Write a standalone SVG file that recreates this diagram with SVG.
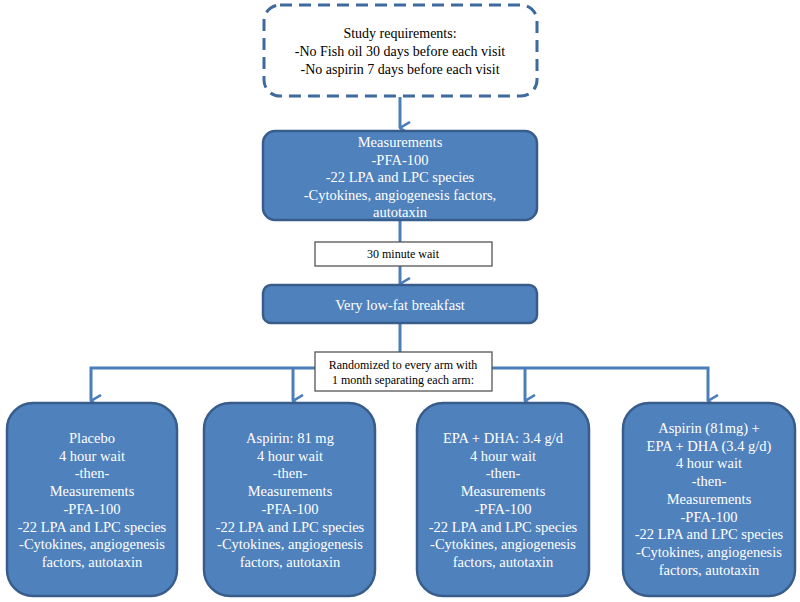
<svg xmlns="http://www.w3.org/2000/svg" width="800" height="602" viewBox="0 0 800 602">
<defs>
<marker id="arr" viewBox="0 0 14 12" refX="7" refY="11" markerWidth="14" markerHeight="12" markerUnits="userSpaceOnUse" orient="auto-start-reverse">
<path d="M1,1 L7,11 L13,1" fill="none" stroke="#4A7EBB" stroke-width="2.6"/>
</marker>
</defs>
<style>
text{font-family:"Liberation Serif","Times New Roman",serif;text-anchor:middle}
.blue{fill:#4F81BD;stroke:#385D8A;stroke-width:2.5}
.wt{fill:#ffffff;font-size:14.5px}
.bt{fill:#000000}
.plain{fill:#ffffff;stroke:#555555;stroke-width:1.3}
.con{fill:none;stroke:#4A7EBB;stroke-width:3}
</style>
<rect width="800" height="602" fill="#ffffff"/>
<g id="connectors">
<path class="con" d="M400,97 V128" marker-end="url(#arr)"/>
<path class="con" d="M400,220 V242"/>
<path class="con" d="M400,266 V284" marker-end="url(#arr)"/>
<path class="con" d="M400,323 V352"/>
<path class="con" d="M315,368 H91 V401" marker-end="url(#arr)"/>
<path class="con" d="M293,368 V401" marker-end="url(#arr)"/>
<path class="con" d="M492,368 H708 V401" marker-end="url(#arr)"/>
<path class="con" d="M525,368 V401" marker-end="url(#arr)"/>
</g>
<g id="requirements">
<rect x="264" y="5" width="273" height="91" rx="16" fill="#ffffff" stroke="#3F6A9E" stroke-width="3" stroke-dasharray="12,7"/>
<text class="bt" font-size="14"><tspan x="400" y="38">Study requirements:</tspan><tspan x="400" y="56">-No Fish oil 30 days before each visit</tspan><tspan x="400" y="74">-No aspirin 7 days before each visit</tspan></text>
</g>
<g id="measurements">
<rect class="blue" x="263" y="131" width="274" height="89" rx="12"/>
<text class="wt"><tspan x="400" y="147">Measurements</tspan><tspan x="400" y="164.5">-PFA-100</tspan><tspan x="400" y="182">-22 LPA and LPC species</tspan><tspan x="400" y="199.5">-Cytokines, angiogenesis factors,</tspan><tspan x="400" y="217">autotaxin</tspan></text>
</g>
<g id="wait">
<rect class="plain" x="315" y="242" width="177" height="24"/>
<text class="bt" font-size="12" x="403" y="258">30 minute wait</text>
</g>
<g id="breakfast">
<rect class="blue" x="263" y="285" width="274" height="38" rx="8"/>
<text class="wt" x="400" y="310">Very low-fat breakfast</text>
</g>
<g id="randomized">
<rect class="plain" x="315" y="352" width="177" height="39"/>
<text class="bt" font-size="12"><tspan x="403" y="369">Randomized to every arm with</tspan><tspan x="403" y="384">1 month separating each arm:</tspan></text>
</g>
<g id="placebo">
<rect class="blue" x="7" y="403" width="170" height="193" rx="26"/>
<text class="wt"><tspan x="92" y="443">Placebo</tspan><tspan x="92" dy="17.7">4 hour wait</tspan><tspan x="92" dy="17.7">-then-</tspan><tspan x="92" dy="17.7">Measurements</tspan><tspan x="92" dy="17.7">-PFA-100</tspan><tspan x="92" dy="17.7">-22 LPA and LPC species</tspan><tspan x="92" dy="17.7">-Cytokines, angiogenesis</tspan><tspan x="92" dy="17.7">factors, autotaxin</tspan></text>
</g>
<g id="aspirin">
<rect class="blue" x="204" y="403" width="171" height="193" rx="26"/>
<text class="wt"><tspan x="290" y="443">Aspirin: 81 mg</tspan><tspan x="290" dy="17.7">4 hour wait</tspan><tspan x="290" dy="17.7">-then-</tspan><tspan x="290" dy="17.7">Measurements</tspan><tspan x="290" dy="17.7">-PFA-100</tspan><tspan x="290" dy="17.7">-22 LPA and LPC species</tspan><tspan x="290" dy="17.7">-Cytokines, angiogenesis</tspan><tspan x="290" dy="17.7">factors, autotaxin</tspan></text>
</g>
<g id="epadha">
<rect class="blue" x="417" y="403" width="172" height="193" rx="26"/>
<text class="wt"><tspan x="503" y="443">EPA + DHA: 3.4 g/d</tspan><tspan x="503" dy="17.7">4 hour wait</tspan><tspan x="503" dy="17.7">-then-</tspan><tspan x="503" dy="17.7">Measurements</tspan><tspan x="503" dy="17.7">-PFA-100</tspan><tspan x="503" dy="17.7">-22 LPA and LPC species</tspan><tspan x="503" dy="17.7">-Cytokines, angiogenesis</tspan><tspan x="503" dy="17.7">factors, autotaxin</tspan></text>
</g>
<g id="combined">
<rect class="blue" x="623" y="403" width="172" height="193" rx="26"/>
<text class="wt"><tspan x="709" y="433">Aspirin (81mg) +</tspan><tspan x="709" dy="17.7">EPA + DHA (3.4 g/d)</tspan><tspan x="709" dy="17.7">4 hour wait</tspan><tspan x="709" dy="17.7">-then-</tspan><tspan x="709" dy="17.7">Measurements</tspan><tspan x="709" dy="17.7">-PFA-100</tspan><tspan x="709" dy="17.7">-22 LPA and LPC species</tspan><tspan x="709" dy="17.7">-Cytokines, angiogenesis</tspan><tspan x="709" dy="17.7">factors, autotaxin</tspan></text>
</g>
</svg>
